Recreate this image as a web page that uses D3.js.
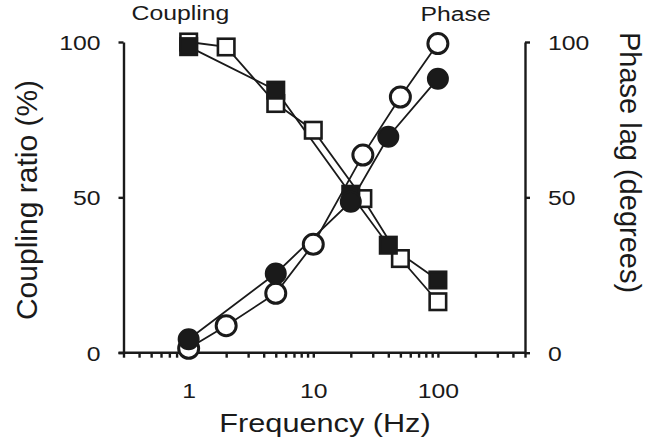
<!DOCTYPE html>
<html>
<head>
<meta charset="utf-8">
<script src="https://cdn.jsdelivr.net/npm/d3@7"></script>
<style>
  html, body { margin: 0; padding: 0; background: #fff; }
  svg { display: block; }
  text { font-family: "Liberation Sans", Arial, Helvetica, sans-serif; fill: #1a1a1a; }
</style>
</head>
<body>
<svg id="chart" width="669" height="443"></svg>
<script>
// ---- data (frequency in Hz, value) ----
const couplingFilledFreq = [1, 5, 20, 40, 100];
const couplingFilledVal  = [98.5, 84.5, 51, 34.6, 23.4];
const couplingOpenFreq   = [1, 2, 5, 10, 25, 50, 100];
const couplingOpenVal    = [100, 98.4, 80.2, 71.6, 49.6, 30.3, 16.4];
const phaseFilledFreq    = [1, 5, 20, 40, 100];
const phaseFilledVal     = [4.3, 25.5, 48.6, 69.5, 88.2];
const phaseOpenFreq      = [1, 2, 5, 10, 25, 50, 100];
const phaseOpenVal       = [1.4, 8.7, 19.1, 34.9, 63.6, 82.3, 99.5];

const xDomain = [0.3, 500];
const xMajorTicks = [1, 10, 100];
const xMinorTicks = [0.3,0.4,0.5,0.6,0.7,0.8,0.9,2,3,4,5,6,7,8,9,20,30,40,50,60,70,80,90,200,300,400,500];
const yTicks = [0, 50, 100];
const leftTitle = "Coupling ratio (%)";
const rightTitle = "Phase lag (degrees)";
const xTitle = "Frequency (Hz)";
const topLeftLabel = "Coupling";
const topRightLabel = "Phase";

// ---- layout ----
const L = 123.5, R = 525, T = 42, B = 352.7;
const SX = 1.18; // horizontal stretch of horizontal texts
const ink = "#1a1a1a";

const svg = d3.select("#chart");
const x = d3.scaleLog().domain(xDomain).range([L, R]);
const yL = d3.scaleLinear().domain([0, 100]).range([B, T]);
const yR = d3.scaleLinear().domain([0, 100]).range([B, T]);

const zip = (f, v) => f.map((d, i) => ({f: d, v: v[i]}));
const cf = zip(couplingFilledFreq, couplingFilledVal);
const co = zip(couplingOpenFreq, couplingOpenVal);
const pf = zip(phaseFilledFreq, phaseFilledVal);
const po = zip(phaseOpenFreq, phaseOpenVal);

// ---- axes ----
function styleAxis(g) {
  g.select(".domain").attr("stroke", ink).attr("stroke-width", 2.4);
  g.selectAll(".tick line").attr("stroke", ink).attr("stroke-width", 2.4);
}

// bottom axis: major with labels
const gx = svg.append("g").attr("transform", `translate(0,${B})`)
  .call(d3.axisBottom(x).tickValues(xMajorTicks).tickSize(5).tickSizeOuter(0).tickFormat(d3.format("d")));
styleAxis(gx);
gx.select(".domain").attr("d", `M${L-5},0H${R}`);
gx.selectAll(".tick text")
  .attr("font-size", 21).attr("fill", ink)
  .attr("y", 0).attr("dy", 0)
  .attr("transform", `translate(0,45) scale(${SX},1)`);
// minor ticks
const gxm = svg.append("g").attr("transform", `translate(0,${B})`)
  .call(d3.axisBottom(x).tickValues(xMinorTicks).tickSize(5).tickSizeOuter(0).tickFormat(""));
gxm.select(".domain").remove();
gxm.selectAll(".tick line").attr("stroke", ink).attr("stroke-width", 2.4);

// left axis
const gy = svg.append("g").attr("transform", `translate(${L},0)`)
  .call(d3.axisLeft(yL).tickValues(yTicks).tickSize(5).tickSizeOuter(0));
styleAxis(gy);
gy.selectAll(".tick text")
  .attr("font-size", 21).attr("fill", ink)
  .attr("x", 0).attr("dy", 0).attr("y", 0)
  .attr("transform", `translate(-23,7.5) scale(${SX},1)`);

// right axis
const gyr = svg.append("g").attr("transform", `translate(${R},0)`)
  .call(d3.axisRight(yR).tickValues(yTicks).tickSize(5).tickSizeOuter(0));
styleAxis(gyr);
gyr.selectAll(".tick text")
  .attr("font-size", 21).attr("fill", ink)
  .attr("x", 0).attr("dy", 0).attr("y", 0)
  .attr("transform", `translate(23,7.5) scale(${SX},1)`);

// ---- titles ----
svg.append("text").attr("font-size", 30).attr("text-anchor", "middle")
  .attr("transform", "translate(37,200) rotate(-90)").text(leftTitle);
svg.append("text").attr("font-size", 29).attr("text-anchor", "middle")
  .attr("transform", "translate(620,162.5) rotate(90)").text(rightTitle);
svg.append("text").attr("font-size", 26).attr("text-anchor", "middle")
  .attr("transform", `translate(325,432) scale(${SX},1)`).text(xTitle);
svg.append("text").attr("font-size", 21)
  .attr("transform", `translate(131.5,20) scale(${SX},1)`).text(topLeftLabel);
svg.append("text").attr("font-size", 21)
  .attr("transform", `translate(420.5,20.5) scale(${SX},1)`).text(topRightLabel);

// ---- lines ----
const lineL = d3.line().x(d => x(d.f)).y(d => yL(d.v));
const lineR = d3.line().x(d => x(d.f)).y(d => yR(d.v));
[[co, lineL], [po, lineR], [cf, lineL], [pf, lineR]].forEach(([data, ln]) => {
  svg.append("path").datum(data).attr("d", ln)
    .attr("fill", "none").attr("stroke", ink).attr("stroke-width", 1.8);
});

// ---- markers ----
const sq = 16.5;
function squares(data, filled) {
  svg.append("g").selectAll("rect").data(data).join("rect")
    .attr("x", d => x(d.f) - sq/2).attr("y", d => yL(d.v) - sq/2)
    .attr("width", sq).attr("height", sq)
    .attr("fill", filled ? ink : "#fff").attr("stroke", ink).attr("stroke-width", 2.6);
}
function circles(data, filled) {
  svg.append("g").selectAll("circle").data(data).join("circle")
    .attr("cx", d => x(d.f)).attr("cy", d => yR(d.v))
    .attr("r", filled ? 10 : 10)
    .attr("fill", filled ? ink : "#fff").attr("stroke", ink).attr("stroke-width", filled ? 2 : 3);
}
squares(co, false);
circles(po, false);
squares(cf, true);
circles(pf, true);
</script>
</body>
</html>
